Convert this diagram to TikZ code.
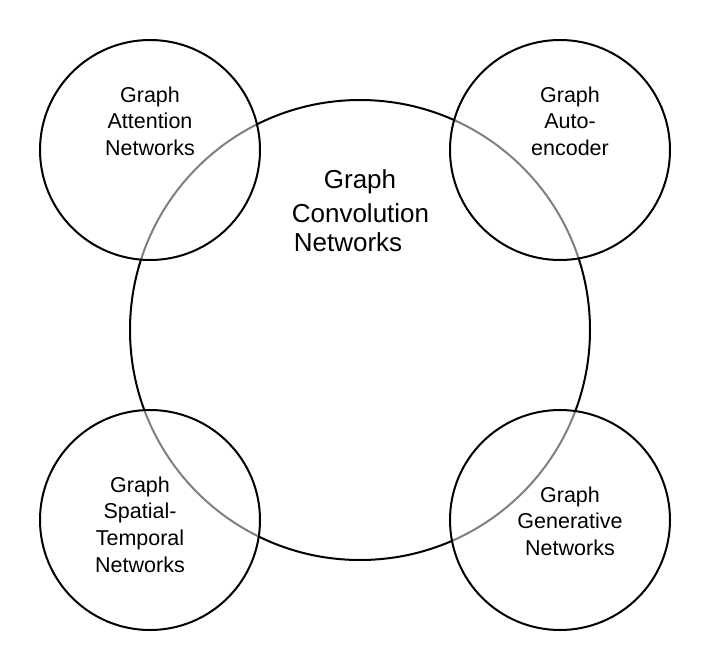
\documentclass[tikz,border=0pt]{standalone}
\usepackage{fontspec}
\setmainfont{Liberation Sans}
\begin{document}
\begin{tikzpicture}[x=1pt,y=-1pt,
  bigc/.style={circle,draw=black,line width=2pt,minimum size=460pt,inner sep=0pt},
  smallc/.style={circle,draw=black,line width=2pt,fill=white,fill opacity=0.5,draw opacity=1,minimum size=220pt,inner sep=0pt},
  smalltxt/.style={anchor=base,inner sep=0pt,font=\fontsize{21.5}{26}\selectfont},
  bigtxt/.style={anchor=base,inner sep=0pt,font=\fontsize{26}{31}\selectfont}]
\useasboundingbox (0,0) rectangle (710,670);
\fill[white] (0,0) rectangle (710,670);
\node[bigc] (gcn) at (360,330) {};
\node[smallc] (gat) at (150,150) {};
\node[smallc] (gae) at (560,150) {};
\node[smallc] (gst) at (150,520) {};
\node[smallc] (ggn) at (560,520) {};
% center text
\node[bigtxt] (gcn1) at (360,188) {Graph};
\node[bigtxt] (gcn2) at (360.5,222.5) {Convolution};
\node[bigtxt] (gcn3) at (348,251.5) {Networks};
% top-left
\node[smalltxt] (gat1) at (150,102) {Graph};
\node[smalltxt] (gat2) at (150,128.5) {Attention};
\node[smalltxt] (gat3) at (150,155) {Networks};
% top-right
\node[smalltxt] (gae1) at (570,102) {Graph};
\node[smalltxt] (gae2) at (570,128.5) {Auto-};
\node[smalltxt] (gae3) at (570,155) {encoder};
% bottom-left
\node[smalltxt] (gst1) at (140,492) {Graph};
\node[smalltxt] (gst2) at (140,518.5) {Spatial-};
\node[smalltxt] (gst3) at (140,545.5) {Temporal};
\node[smalltxt] (gst4) at (140,572) {Networks};
% bottom-right
\node[smalltxt] (ggn1) at (570,502) {Graph};
\node[smalltxt] (ggn2) at (570,528.5) {Generative};
\node[smalltxt] (ggn3) at (570,555) {Networks};
\end{tikzpicture}
\end{document}
